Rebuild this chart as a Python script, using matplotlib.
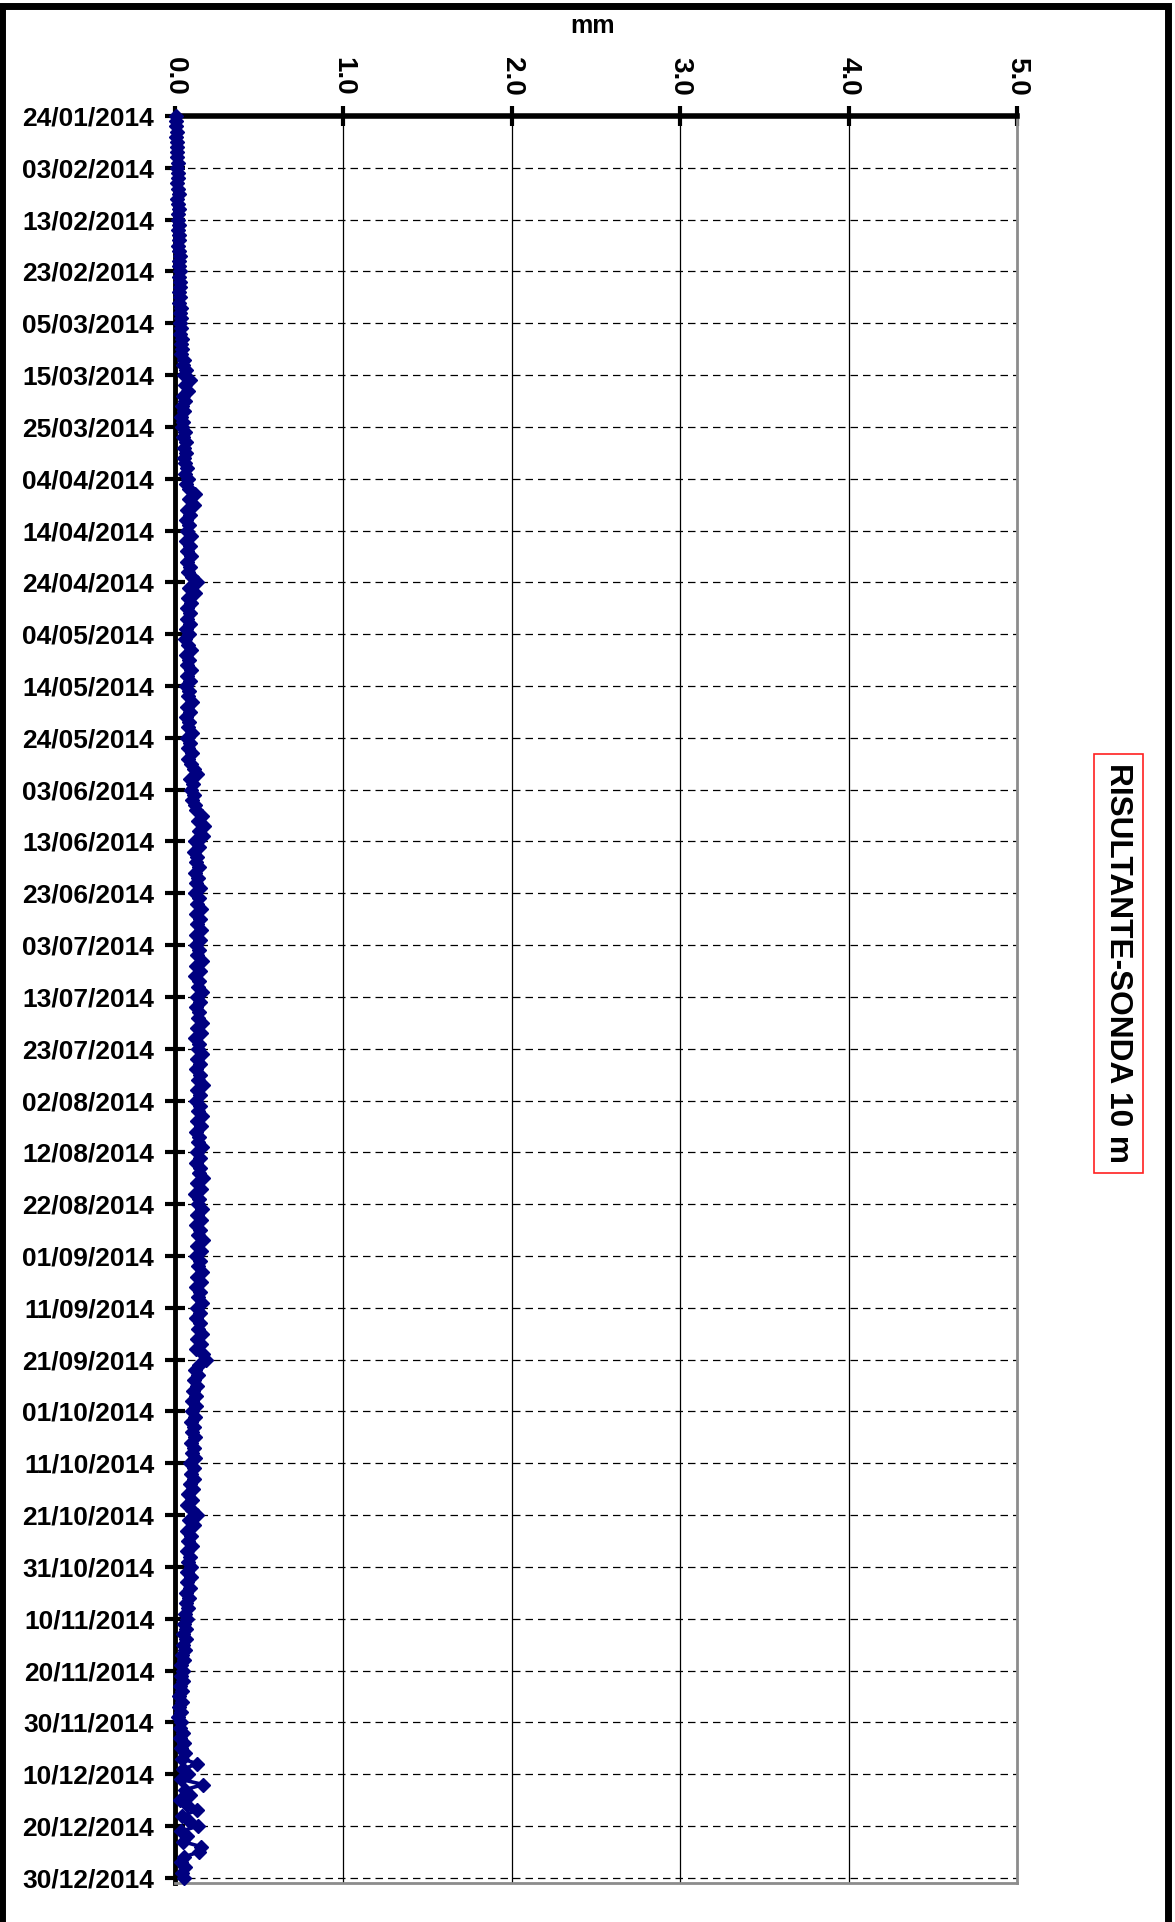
import matplotlib
matplotlib.use("Agg")
import matplotlib.pyplot as plt
import matplotlib.dates as mdates
from matplotlib.patches import Rectangle
import pandas as pd
import datetime as dt

plt.rcParams['font.family'] = ['Liberation Sans', 'DejaVu Sans']
plt.rcParams['font.weight'] = 'bold'

# ---- data (mm), one reading per day from 24/01/2014 to 30/12/2014 ----
jan = [0.003, 0.008, 0.005, 0.010, 0.007, 0.012, 0.009, 0.013]
feb = [0.011, 0.016, 0.010, 0.015, 0.019, 0.013, 0.017, 0.021, 0.014, 0.018,
       0.022, 0.016, 0.020, 0.024, 0.017, 0.022, 0.026, 0.019, 0.023, 0.028,
       0.021, 0.025, 0.030, 0.022, 0.027, 0.031, 0.024, 0.029]
mar = [0.026, 0.033, 0.028, 0.036, 0.030, 0.038, 0.032, 0.041, 0.035, 0.044,
       0.038, 0.052, 0.047, 0.066, 0.055, 0.088, 0.062, 0.079, 0.048, 0.058,
       0.042, 0.055, 0.036, 0.050, 0.040, 0.057, 0.046, 0.063, 0.051, 0.068,
       0.055]
apr = [0.062, 0.071, 0.058, 0.075, 0.064, 0.082, 0.118, 0.085, 0.112, 0.070,
       0.088, 0.066, 0.083, 0.072, 0.095, 0.068, 0.087, 0.074, 0.096, 0.071,
       0.089, 0.077, 0.098, 0.128, 0.082, 0.121, 0.079, 0.094, 0.072, 0.088]
may = [0.070, 0.092, 0.066, 0.083, 0.061, 0.079, 0.095, 0.068, 0.086, 0.072,
       0.097, 0.074, 0.088, 0.065, 0.083, 0.076, 0.099, 0.071, 0.090, 0.067,
       0.085, 0.078, 0.101, 0.073, 0.092, 0.080, 0.098, 0.075, 0.094, 0.110,
       0.132]
jun = [0.088, 0.104, 0.093, 0.112, 0.098, 0.118, 0.125, 0.162, 0.138, 0.175,
       0.142, 0.168, 0.121, 0.140, 0.115, 0.133, 0.122, 0.145, 0.118, 0.137,
       0.126, 0.150, 0.120, 0.141, 0.129, 0.152, 0.124, 0.146, 0.131, 0.155]
jul = [0.127, 0.149, 0.122, 0.143, 0.133, 0.158, 0.126, 0.147, 0.120, 0.141,
       0.135, 0.161, 0.129, 0.150, 0.124, 0.145, 0.138, 0.163, 0.131, 0.152,
       0.119, 0.144, 0.136, 0.160, 0.128, 0.149, 0.123, 0.146, 0.139, 0.165,
       0.132]
aug = [0.151, 0.125, 0.147, 0.137, 0.162, 0.130, 0.154, 0.122, 0.145, 0.134,
       0.158, 0.128, 0.150, 0.124, 0.148, 0.140, 0.166, 0.133, 0.155, 0.121,
       0.143, 0.136, 0.161, 0.129, 0.152, 0.126, 0.149, 0.138, 0.164, 0.131,
       0.153]
sep = [0.124, 0.147, 0.139, 0.163, 0.130, 0.152, 0.123, 0.146, 0.135, 0.160,
       0.128, 0.150, 0.125, 0.148, 0.137, 0.162, 0.131, 0.154, 0.127, 0.168,
       0.182, 0.143, 0.121, 0.139, 0.113, 0.131, 0.108, 0.126, 0.102, 0.122]
oct_ = [0.098, 0.118, 0.095, 0.114, 0.101, 0.121, 0.093, 0.112, 0.099, 0.117,
        0.090, 0.110, 0.096, 0.114, 0.088, 0.106, 0.079, 0.098, 0.074, 0.102,
        0.128, 0.085, 0.112, 0.072, 0.094, 0.078, 0.099, 0.071, 0.092, 0.080,
        0.097]
nov = [0.074, 0.093, 0.070, 0.088, 0.067, 0.084, 0.063, 0.079, 0.058, 0.072,
       0.054, 0.068, 0.049, 0.063, 0.045, 0.058, 0.041, 0.055, 0.036, 0.050,
       0.033, 0.047, 0.029, 0.044, 0.026, 0.040, 0.022, 0.037, 0.019, 0.034]
dec = [0.028, 0.045, 0.032, 0.052, 0.036, 0.060, 0.041, 0.132, 0.048, 0.075,
       0.035, 0.168, 0.058, 0.090, 0.030, 0.072, 0.128, 0.044, 0.086, 0.138,
       0.038, 0.070, 0.047, 0.155, 0.142, 0.052, 0.034, 0.061, 0.040, 0.055]

values = jan + feb + mar + apr + may + jun + jul + aug + sep + oct_ + nov + dec
dates = pd.date_range('2014-01-24', periods=len(values), freq='D')

x_ticks = [0.0, 1.0, 2.0, 3.0, 4.0, 5.0]
x_tick_labels = ['0.0', '1.0', '2.0', '3.0', '4.0', '5.0']
y_ticks = pd.date_range('2014-01-24', '2014-12-30', freq='10D')
y_tick_labels = [d.strftime('%d/%m/%Y') for d in y_ticks]
title = 'RISULTANTE-SONDA 10 m'
x_label = 'mm'

# ---- figure ----
W, H = 1175, 1922
fig = plt.figure(figsize=(W / 100, H / 100), dpi=100)
ax = fig.add_axes([175 / W, 1 - 1883 / H, (1017 - 175) / W, (1883 - 116) / H])

ax.plot(values, dates, color='#000080', lw=2.6, marker='D', ms=6.8,
        mec='#000080', mfc='#000080', zorder=5, clip_on=False)

ax.set_xlim(0, 5)
ax.set_ylim(mdates.date2num(dt.datetime(2014, 12, 31)),
            mdates.date2num(dt.datetime(2014, 1, 24)))

ax.xaxis.tick_top()
ax.set_xticks(x_ticks)
ax.set_xticklabels(x_tick_labels, rotation=-90, fontsize=20, fontweight='bold')
ax.set_yticks(y_ticks)
ax.set_yticklabels(y_tick_labels, fontsize=19, fontweight='bold')

ax.tick_params(axis='x', direction='inout', length=15, width=3, pad=7, color='black')
ax.tick_params(axis='y', direction='inout', length=14, width=3, pad=8, color='black')

for xv in x_ticks[1:-1]:
    ax.axvline(xv, color='black', lw=0.9, zorder=1)
for yv in y_ticks[1:]:
    ax.axhline(yv, color='black', lw=0.9, ls=(0, (6, 4)), zorder=1)

ax.spines['top'].set_linewidth(4)
ax.spines['top'].set_color('black')
ax.spines['left'].set_linewidth(3.5)
ax.spines['left'].set_color('black')
ax.spines['right'].set_linewidth(2)
ax.spines['right'].set_color('#8c8c8c')
ax.spines['bottom'].set_linewidth(2)
ax.spines['bottom'].set_color('#8c8c8c')

fig.text(593 / W, 1 - 26 / H, x_label, ha='center', va='center',
         fontsize=18, fontweight='bold')

fig.text(1118 / W, 1 - 963 / H, title, rotation=-90, ha='center', va='center',
         fontsize=22.8, fontweight='bold',
         bbox=dict(boxstyle='square,pad=0.3', fc='white', ec='#ff2020', lw=1.2))

# outer frame (top, left, right visible)
fig.add_artist(Rectangle((1.5 / W, -0.05), (1167.5 - 1.5) / W, 1.05 - 5.5 / H,
                         transform=fig.transFigure, fill=False, ec='black',
                         lw=5, clip_on=False))

fig.savefig('out.png', dpi=100)
